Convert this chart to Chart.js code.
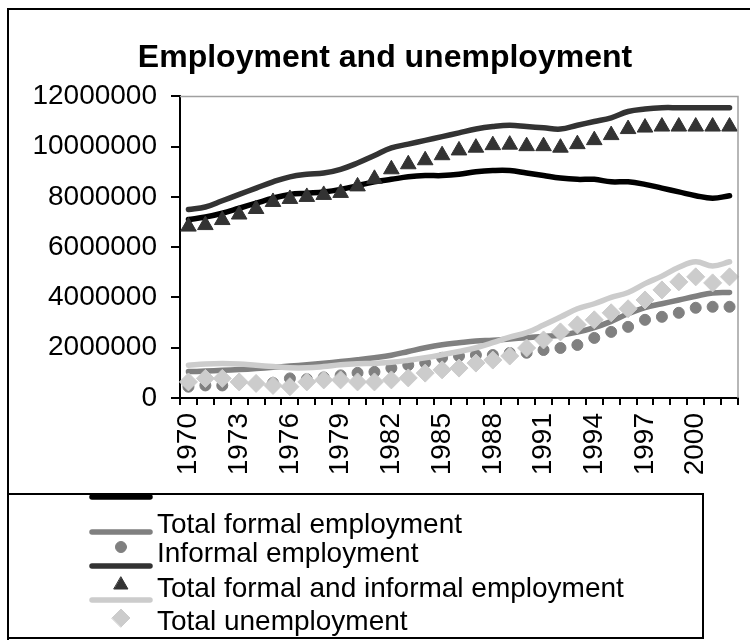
<!DOCTYPE html>
<html>
<head>
<meta charset="utf-8">
<title>Employment and unemployment</title>
<script src="https://cdn.jsdelivr.net/npm/chart.js@4/dist/chart.umd.min.js"></script>
<style>
  html, body { margin: 0; padding: 0; background: #fff; }
  #empChart { display: block; }
</style>
</head>
<body>
<canvas id="empChart" width="750" height="640"></canvas>
<script>
// Employment and unemployment, 1970-2002
const anos = ['1970', '1971', '1972', '1973', '1974', '1975', '1976', '1977', '1978', '1979',
              '1980', '1981', '1982', '1983', '1984', '1985', '1986', '1987', '1988', '1989',
              '1990', '1991', '1992', '1993', '1994', '1995', '1996', '1997', '1998', '1999',
              '2000', '2001', '2002'];

// valores em milhões (convertidos abaixo)
const formalLinha = [7.10, 7.20, 7.35, 7.55, 7.75, 7.95, 8.10, 8.15, 8.20, 8.30,
                     8.45, 8.60, 8.70, 8.80, 8.85, 8.85, 8.90, 9.00, 9.05, 9.05,
                     8.95, 8.85, 8.75, 8.70, 8.70, 8.60, 8.60, 8.50, 8.35, 8.20,
                     8.05, 7.95, 8.05];
const informalLinha = [1.05, 1.07, 1.10, 1.13, 1.17, 1.22, 1.27, 1.32, 1.38, 1.45,
                       1.52, 1.60, 1.70, 1.85, 2.00, 2.12, 2.20, 2.27, 2.30, 2.35,
                       2.40, 2.45, 2.50, 2.62, 2.80, 3.05, 3.35, 3.60, 3.75, 3.90,
                       4.05, 4.18, 4.20];
const informalPontos = [0.45, 0.50, 0.50, 0.60, 0.58, 0.60, 0.78, 0.75, 0.82, 0.90,
                        1.00, 1.04, 1.19, 1.31, 1.40, 1.60, 1.67, 1.71, 1.71, 1.79,
                        1.80, 1.91, 1.99, 2.11, 2.39, 2.63, 2.83, 3.11, 3.23, 3.39,
                        3.59, 3.63, 3.63];
const totalLinha = [7.50, 7.60, 7.85, 8.10, 8.35, 8.60, 8.80, 8.90, 8.95, 9.10,
                    9.35, 9.65, 9.95, 10.10, 10.25, 10.40, 10.55, 10.70, 10.80, 10.85,
                    10.80, 10.75, 10.70, 10.85, 11.00, 11.15, 11.40, 11.50, 11.55, 11.55,
                    11.55, 11.55, 11.55];
const totalPontos = [6.82, 6.88, 7.08, 7.30, 7.52, 7.80, 7.92, 8.00, 8.08, 8.16,
                     8.42, 8.72, 9.10, 9.30, 9.46, 9.66, 9.85, 9.96, 10.06, 10.08,
                     10.02, 10.02, 9.96, 10.10, 10.26, 10.46, 10.70, 10.76, 10.80, 10.80,
                     10.80, 10.80, 10.80];
const desempregoLinha = [1.30, 1.35, 1.37, 1.35, 1.30, 1.25, 1.20, 1.20, 1.25, 1.32,
                         1.36, 1.38, 1.42, 1.50, 1.60, 1.72, 1.85, 2.00, 2.20, 2.42,
                         2.60, 2.90, 3.22, 3.55, 3.75, 4.00, 4.20, 4.55, 4.85, 5.20,
                         5.42, 5.25, 5.42];
const desempregoPontos = [0.64, 0.78, 0.78, 0.64, 0.58, 0.50, 0.45, 0.64, 0.72, 0.72,
                          0.64, 0.64, 0.72, 0.80, 0.99, 1.12, 1.19, 1.39, 1.51, 1.67,
                          1.99, 2.31, 2.63, 2.91, 3.11, 3.39, 3.55, 3.90, 4.30, 4.62,
                          4.82, 4.58, 4.82];

const yTicks = [0, 2000000, 4000000, 6000000, 8000000, 10000000, 12000000];

const FONTE = 'Arial, "Liberation Sans", sans-serif';
const mi = arr => arr.map(v => Math.round(v * 1000000));

function linha(label, data, cor, ordem) {
    return {
        label: label,
        data: mi(data),
        borderColor: cor,
        backgroundColor: cor,
        borderWidth: 5.5,
        borderCapStyle: 'round',
        borderJoinStyle: 'round',
        tension: 0.4,
        pointRadius: 0,
        order: ordem
    };
}

function pontos(label, data, cor, estilo, raio, ordem) {
    return {
        label: label,
        data: mi(data),
        showLine: false,
        borderColor: cor,
        backgroundColor: cor,
        pointStyle: estilo,
        pointRadius: raio,
        pointBackgroundColor: cor,
        pointBorderColor: cor,
        pointBorderWidth: 1,
        order: ordem
    };
}

// ordem maior = desenhado antes (fica por baixo)
const datasets = [
    linha('Total formal employment', formalLinha, '#000000', 6),
    linha('Informal employment', informalLinha, '#808080', 5),
    pontos('Informal employment', informalPontos, '#808080', 'circle', 5.5, 4),
    linha('Total formal and informal employment', totalLinha, '#333333', 3),
    pontos('Total formal and informal employment', totalPontos, '#333333', 'triangle', 9, 2),
    linha('Total unemployment', desempregoLinha, '#cccccc', 1),
    pontos('Total unemployment', desempregoPontos, '#cccccc', 'rectRot', 9, 0)
];

// posições da legenda: linha, marcador (dataset) e texto
const legendaItens = [
    { texto: 'Total formal employment', linha: 0, linhaY: 497, marcador: null, marcadorY: 0, textoY: 533 },
    { texto: 'Informal employment', linha: 1, linhaY: 532, marcador: 2, marcadorY: 547, textoY: 562 },
    { texto: 'Total formal and informal employment', linha: 3, linhaY: 566, marcador: 4, marcadorY: 585, textoY: 597 },
    { texto: 'Total unemployment', linha: 5, linhaY: 600, marcador: 6, marcadorY: 618, textoY: 630 }
];

const moldura = {
    id: 'moldura',
    beforeDraw(chart) {
        const ctx = chart.ctx;
        ctx.save();
        ctx.fillStyle = '#ffffff';
        ctx.fillRect(0, 0, chart.width, chart.height);
        ctx.strokeStyle = '#000000';
        ctx.lineWidth = 2;
        ctx.strokeRect(8, 9, 780, 700);
        ctx.restore();
    },
    afterDatasetsDraw(chart) {
        // borda cinza do topo e da direita da área do gráfico
        const { ctx, chartArea } = chart;
        ctx.save();
        ctx.strokeStyle = '#a0a0a0';
        ctx.lineWidth = 1.5;
        ctx.beginPath();
        ctx.moveTo(chartArea.left, chartArea.top);
        ctx.lineTo(chartArea.right, chartArea.top);
        ctx.lineTo(chartArea.right, chartArea.bottom);
        ctx.stroke();
        ctx.restore();
    },
    afterDraw(chart) {
        const ctx = chart.ctx;
        ctx.save();
        ctx.fillStyle = '#ffffff';
        ctx.fillRect(8, 494, 695, 144);
        ctx.strokeStyle = '#000000';
        ctx.lineWidth = 2;
        ctx.strokeRect(8, 494, 695, 144);

        ctx.beginPath();
        ctx.rect(9, 495, 693, 142);
        ctx.clip();

        legendaItens.forEach(item => {
            const dsLinha = chart.data.datasets[item.linha];
            ctx.strokeStyle = dsLinha.borderColor;
            ctx.lineWidth = dsLinha.borderWidth;
            ctx.lineCap = 'round';
            ctx.beginPath();
            ctx.moveTo(92, item.linhaY);
            ctx.lineTo(150, item.linhaY);
            ctx.stroke();

            if (item.marcador !== null) {
                const dsPonto = chart.data.datasets[item.marcador];
                ctx.fillStyle = dsPonto.pointBackgroundColor;
                ctx.strokeStyle = dsPonto.pointBorderColor;
                ctx.lineWidth = 1;
                Chart.helpers.drawPoint(ctx, {
                    pointStyle: dsPonto.pointStyle,
                    radius: dsPonto.pointStyle === 'triangle' ? 8 : dsPonto.pointRadius,
                    rotation: 0,
                    borderWidth: 1
                }, 121, item.marcadorY);
            }

            ctx.fillStyle = '#000000';
            ctx.font = '28px ' + FONTE;
            ctx.textAlign = 'left';
            ctx.textBaseline = 'alphabetic';
            ctx.fillText(item.texto, 157, item.textoY);
        });
        ctx.restore();
    }
};

new Chart(document.getElementById('empChart'), {
    type: 'line',
    data: { labels: anos, datasets: datasets },
    options: {
        responsive: false,
        animation: false,
        devicePixelRatio: 1,
        layout: { padding: { left: 32, right: 12, top: 8, bottom: 147 } },
        plugins: {
            legend: { display: false },
            tooltip: { enabled: false },
            title: {
                display: true,
                text: 'Employment and unemployment',
                color: '#000000',
                font: { family: FONTE, size: 32, weight: 'bold', lineHeight: 1.2 },
                padding: { top: 31, bottom: 19 }
            }
        },
        scales: {
            x: {
                type: 'category',
                offset: true,
                grid: {
                    offset: true,
                    drawOnChartArea: false,
                    drawTicks: true,
                    tickLength: 7,
                    color: '#000000',
                    lineWidth: 2
                },
                border: { display: true, color: '#000000', width: 2 },
                ticks: {
                    autoSkip: false,
                    minRotation: 90,
                    maxRotation: 90,
                    padding: 8,
                    color: '#000000',
                    font: { family: FONTE, size: 28 },
                    callback: function (valor, indice) {
                        return indice % 3 === 0 ? this.getLabelForValue(valor) : '';
                    }
                },
                afterFit(scale) {
                    // sem folga extra para os rótulos girados
                    scale.height = 95;
                    scale.paddingLeft = 0;
                    scale.paddingRight = 0;
                }
            },
            y: {
                min: 0,
                max: 12000000,
                afterBuildTicks(scale) { scale.ticks = yTicks.map(v => ({ value: v })); },
                grid: {
                    drawOnChartArea: false,
                    drawTicks: true,
                    tickLength: 9,
                    color: '#000000',
                    lineWidth: 2
                },
                border: { display: true, color: '#000000', width: 2 },
                ticks: {
                    padding: 14,
                    color: '#000000',
                    font: { family: FONTE, size: 28 },
                    callback: v => String(v)
                },
                afterFit(scale) { scale.width = 148; }
            }
        }
    },
    plugins: [moldura]
});
</script>
</body>
</html>
